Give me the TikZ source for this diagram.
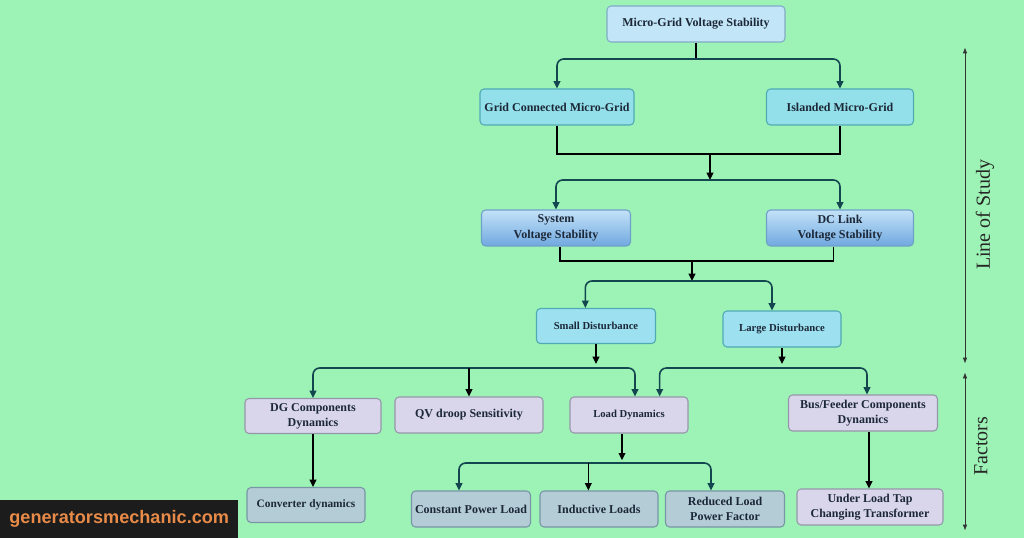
\documentclass[tikz,border=0pt]{standalone}
\usepackage{fontspec}
\setmainfont{Liberation Serif}
\newfontfamily\wmfont{Liberation Sans}
\usetikzlibrary{arrows.meta}
\definecolor{bg}{RGB}{156,243,181}
\definecolor{txt}{RGB}{28,40,56}
\definecolor{topf}{RGB}{194,230,248}
\definecolor{topd}{RGB}{130,170,200}
\definecolor{cyf}{RGB}{148,224,234}
\definecolor{cyd}{RGB}{80,170,180}
\definecolor{gtop}{RGB}{196,226,248}
\definecolor{gbot}{RGB}{112,168,224}
\definecolor{gd}{RGB}{110,160,200}
\definecolor{sdf}{RGB}{157,224,240}
\definecolor{lavf}{RGB}{217,214,236}
\definecolor{lavd}{RGB}{150,150,170}
\definecolor{grf}{RGB}{180,204,214}
\definecolor{grd}{RGB}{120,150,165}
\definecolor{tealln}{RGB}{20,70,80}
\definecolor{wmc}{RGB}{232,138,72}
\definecolor{wmbg}{RGB}{28,28,28}
\tikzset{
  box/.style n args={3}{rounded corners=3pt, align=center, text=txt,
    font=\bfseries\fontsize{9}{11.5}\selectfont, inner sep=1pt, line width=0.8pt,
    minimum width=#1*0.75pt, minimum height=#2*0.75pt, draw=#3},
  small/.style={font=\bfseries\fontsize{8}{9}\selectfont},
  br/.style={draw=tealln, line width=1.2pt, rounded corners=5pt,
    -{Triangle[length=5.5pt,width=5pt]}},
  st/.style={draw=black, line width=1.2pt, -{Triangle[length=5.5pt,width=5pt]}},
  ln/.style={draw=black, line width=1.2pt},
  side/.style={draw=black!80, line width=0.5pt,
    {Triangle[length=4pt,width=3pt]}-{Triangle[length=4pt,width=3pt]}},
  sidetxt/.style={rotate=90, font=\fontsize{15}{16}\selectfont, text=black!85}
}
\begin{document}
\begin{tikzpicture}[x=0.75pt,y=-0.75pt]
\useasboundingbox (0,0) rectangle (1024,538);
\fill[bg] (0,0) rectangle (1024,538);

% nodes
\node[box={178}{36}{topd}, fill=topf] (top) at (696,24) {Micro-Grid Voltage Stability};
\node[box={154}{36}{cyd}, fill=cyf] (gc) at (557,107) {Grid Connected Micro-Grid};
\node[box={147}{36}{cyd}, fill=cyf] (isl) at (840,107) {Islanded Micro-Grid};
\node[box={149}{36}{gd}, top color=gtop, bottom color=gbot] (sys) at (556,228) {System\\Voltage Stability};
\node[box={147}{36}{gd}, top color=gtop, bottom color=gbot] (dc) at (840,228) {DC Link\\Voltage Stability};
\node[box={119}{35}{cyd}, fill=sdf, small] (sd) at (596,326) {Small Disturbance};
\node[box={118}{36}{cyd}, fill=sdf, small] (ld) at (782,329) {Large Disturbance};
\node[box={136}{35}{lavd}, fill=lavf] (dg) at (313,416) {DG Components\\Dynamics};
\node[box={148}{36}{lavd}, fill=lavf] (qv) at (469,415) {QV droop Sensitivity};
\node[box={118}{36}{lavd}, fill=lavf, small] (load) at (629,415) {Load Dynamics};
\node[box={149}{36}{lavd}, fill=lavf] (bus) at (863,413) {Bus/Feeder Components\\Dynamics};
\node[box={118}{35}{grd}, fill=grf, font=\bfseries\fontsize{8.5}{9.5}\selectfont] (conv) at (306,505) {Converter dynamics};
\node[box={119}{36}{grd}, fill=grf] (cpl) at (471,509) {Constant Power Load};
\node[box={118}{36}{grd}, fill=grf] (ind) at (599,509) {Inductive Loads};
\node[box={119}{36}{grd}, fill=grf] (rlpf) at (725,509) {Reduced Load\\Power Factor};
\node[box={146}{36}{lavd}, fill=lavf] (ultc) at (870,507) {Under Load Tap\\Changing Transformer};

% junction coordinates
\coordinate (j0) at (696,59);
\coordinate (j1) at (710,154);
\coordinate (j2) at (710,180);
\coordinate (j3) at (692,261);
\coordinate (j4) at (692,281);
\coordinate (j5) at (596,368);
\coordinate (j6) at (782,368);
\coordinate (j7) at (622,463);

% connectors
\draw[ln] (top.south) -- (j0);
\draw[br] (j0) -| (gc.north);
\draw[br] (j0) -| (isl.north);
\draw[ln] (gc.south) |- (j1) -| (isl.south);
\draw[st] (j1) -- (j2);
\draw[br] (j2) -| (sys.north);
\draw[br] (j2) -| (dc.north);
\draw[ln] ([xshift=3pt]sys.south) |- (j3) -| ([xshift=-5pt]dc.south);
\draw[st] (j3) -- (j4);
\draw[br] (j4) -| ([xshift=-8pt]sd.north);
\draw[br] (j4) -| ([xshift=-7.5pt]ld.north);
\draw[st] (sd.south) -- ([yshift=3pt]j5);
\draw[br] (j5) -| (dg.north);
\draw[st] (j5 -| qv.north) -- (qv.north);
\draw[br] (j5) -| ([xshift=4.5pt]load.north);
\draw[st] (ld.south) -- ([yshift=3pt]j6);
\draw[br] (j6) -| ([xshift=23pt]load.north);
\draw[br] (j6) -| ([xshift=3pt]bus.north);
\draw[st] (dg.south) -- (dg.south |- conv.north);
\draw[st] (load.south -| j7) -- ([yshift=2pt]j7);
\draw[br] (j7) -| ([xshift=-9pt]cpl.north);
\draw[st] ([xshift=-8pt]j7 -| ind.north) -- ([xshift=-8pt]ind.north);
\draw[br] (j7) -| ([xshift=-10.5pt]rlpf.north);
\draw[st] ([xshift=4.5pt]bus.south) -- ([xshift=4.5pt]bus.south |- ultc.north);

% side arrows
\coordinate (s1) at (965,48);
\coordinate (s2) at (965,363);
\coordinate (s3) at (965,373);
\coordinate (s4) at (965,530);
\draw[side] (s1) -- (s2);
\draw[side] (s3) -- (s4);
\node[sidetxt] (los) at (985,215) {Line of Study};
\node[sidetxt] (fac) at (981,446) {Factors};

% watermark
\node[anchor=south west, fill=wmbg, minimum width=238*0.75pt, minimum height=38*0.75pt,
  inner sep=0pt, text=wmc, font=\wmfont\bfseries\fontsize{13.6}{14}\selectfont] (wm) at (0,538) {generatorsmechanic.com};
\end{tikzpicture}
\end{document}
